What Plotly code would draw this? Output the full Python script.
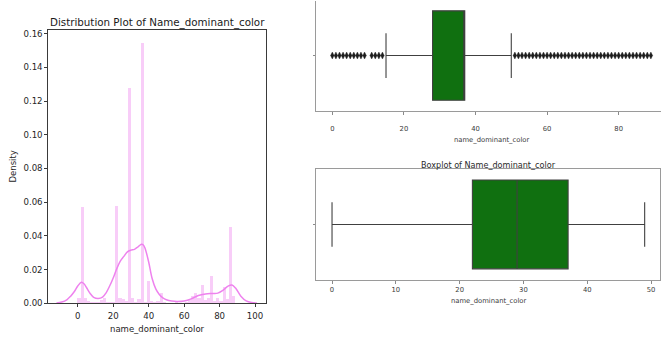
import numpy as np
import plotly.graph_objects as go

# ---------------------------------------------------------------- data
# histogram of name_dominant_color (density per bin), 50 bins over [0, 89]
hist_lo, hist_hi, hist_bins = 0, 89, 50
hist_density = [
    0.0035, 0.0570, 0.0030, 0.0015, 0.0010, 0.0008, 0.0010, 0.0020, 0.0035, 0.0010,
    0.0008, 0.0010, 0.0580, 0.0035, 0.0025, 0.0015, 0.1280, 0.0035, 0.0010, 0.0028,
    0.1545, 0.0010, 0.0135, 0.0015, 0.0010, 0.0015, 0.0065, 0.0010, 0.0005, 0.0004,
    0.0003, 0.0006, 0.0003, 0.0004, 0.0008, 0.0020, 0.0045, 0.0065, 0.0030, 0.0107,
    0.0020, 0.0030, 0.0162, 0.0015, 0.0030, 0.0015, 0.0095, 0.0025, 0.0454, 0.0045,
]

# kernel density estimate of the same column
kde_x = [-12, -9, -6, -4, -2, 0, 2, 3.5, 5, 7, 9, 11.5, 14, 16, 18, 20, 22, 24,
         26, 28, 30, 32, 34, 36, 37, 38, 40, 42, 44, 46, 48, 50, 53, 56, 60, 64,
         68, 72, 76, 79, 82, 85, 87, 89, 92, 95, 98, 101]
kde_y = [0.0002, 0.0007, 0.0022, 0.0042, 0.0068, 0.0102, 0.0124, 0.0116, 0.0092,
         0.0058, 0.0035, 0.0028, 0.0036, 0.0062, 0.0102, 0.0150, 0.0205, 0.0250,
         0.0278, 0.0305, 0.0315, 0.0320, 0.0335, 0.0350, 0.0346, 0.0325, 0.0245,
         0.0145, 0.0085, 0.0052, 0.0032, 0.0021, 0.0013, 0.0010, 0.0013, 0.0026,
         0.0046, 0.0055, 0.0058, 0.0060, 0.0078, 0.0103, 0.0108, 0.0090, 0.0042,
         0.0014, 0.0004, 0.0001]

# boxplot of the full column
full_q1, full_median, full_q3 = 28, 37, 37
full_whisker_lo, full_whisker_hi = 15, 50
full_outliers = [0, 1, 2, 3, 4, 5, 6, 7, 8, 9, 11, 12, 13, 14,
                 51, 52, 53, 54, 55, 56, 57, 58, 59, 60, 61, 62, 63, 64, 65, 66,
                 67, 68, 69, 70, 71, 72, 73, 74, 75, 76, 77, 78, 79, 80, 81, 82,
                 83, 84, 85, 86, 87, 88, 89]

# boxplot after outlier removal
clean_q1, clean_median, clean_q3 = 22, 29, 37
clean_whisker_lo, clean_whisker_hi = 0, 49

# ---------------------------------------------------------------- helpers
W, H = 661, 338


def fx(px):
    return px / W


def fy(py):
    return 1 - py / H


FONT = "DejaVu Sans"
BOX_GREEN = "#107010"
BOX_LINE = "#404040"
VIOLET = "#EE82EE"

edges = np.linspace(hist_lo, hist_hi, hist_bins + 1)
centres = (edges[:-1] + edges[1:]) / 2
bin_w = edges[1] - edges[0]

fig = go.Figure()

# left: distribution plot
fig.add_trace(go.Bar(
    x=centres, y=hist_density, width=bin_w,
    marker=dict(color="rgba(238,130,238,0.4)", line=dict(width=0)),
    xaxis="x", yaxis="y", showlegend=False, hoverinfo="skip",
))
fig.add_trace(go.Scatter(
    x=kde_x, y=kde_y, mode="lines",
    line=dict(color=VIOLET, width=1.5, shape="spline", smoothing=1.0),
    xaxis="x", yaxis="y", showlegend=False,
))

# top right: boxplot with outliers
fig.add_trace(go.Box(
    q1=[full_q1], median=[full_median], q3=[full_q3],
    lowerfence=[full_whisker_lo], upperfence=[full_whisker_hi],
    y=[0], orientation="h", width=0.8, whiskerwidth=0.5,
    fillcolor=BOX_GREEN, line=dict(color=BOX_LINE, width=1.1),
    boxpoints=False, xaxis="x2", yaxis="y2", showlegend=False,
))
fig.add_trace(go.Scatter(
    x=full_outliers, y=[0] * len(full_outliers), mode="markers",
    marker=dict(symbol="diamond-tall", size=5, color="#1e1e1e",
                line=dict(width=0.4, color="#1e1e1e")),
    xaxis="x2", yaxis="y2", showlegend=False,
))

# bottom right: boxplot without outliers
fig.add_trace(go.Box(
    q1=[clean_q1], median=[clean_median], q3=[clean_q3],
    lowerfence=[clean_whisker_lo], upperfence=[clean_whisker_hi],
    y=[0], orientation="h", width=0.8, whiskerwidth=0.5,
    fillcolor=BOX_GREEN, line=dict(color=BOX_LINE, width=1.1),
    boxpoints=False, xaxis="x3", yaxis="y3", showlegend=False,
))

left_axis = dict(showgrid=False, zeroline=False, showline=True, mirror=True,
                 linecolor="#3a3a3a", linewidth=1, ticks="outside", ticklen=3,
                 tickcolor="#3a3a3a", tickwidth=1,
                 tickfont=dict(family=FONT, size=8.6, color="#262626"))
right_axis = dict(showgrid=False, zeroline=False, showline=True,
                  linecolor="#9a9a9a", linewidth=1, ticks="outside", ticklen=3,
                  tickcolor="#8a8a8a", tickwidth=1,
                  tickfont=dict(family=FONT, size=6.8, color="#3a3a3a"))

fig.update_layout(
    width=W, height=H, margin=dict(l=0, r=0, t=0, b=0),
    paper_bgcolor="white", plot_bgcolor="white", bargap=0,
    xaxis=dict(left_axis, domain=[fx(48.3), fx(265.7)], range=[-16.6, 106.0],
               tickvals=[0, 20, 40, 60, 80, 100], anchor="y", ticklabelstandoff=1),
    yaxis=dict(left_axis, domain=[fy(307.7), fy(29.3)], range=[0, 0.1623],
               tickvals=[0, 0.02, 0.04, 0.06, 0.08, 0.10, 0.12, 0.14, 0.16],
               tickformat=".2f", anchor="x"),
    xaxis2=dict(right_axis, domain=[fx(316.4), 1], range=[-4.45, 91.83],
                tickvals=[0, 20, 40, 60, 80], anchor="y2", mirror=False,
                ticklabelstandoff=7),
    yaxis2=dict(right_axis, domain=[fy(112.4), 1], range=[-0.5, 0.488],
                tickvals=[0], ticktext=[""], ticklen=2, anchor="x2", mirror=False),
    xaxis3=dict(right_axis, domain=[fx(316.4), fx(660.3)], range=[-2.45, 51.45],
                tickvals=[0, 10, 20, 30, 40, 50], anchor="y3", mirror=True),
    yaxis3=dict(right_axis, domain=[fy(284), fy(171)], range=[-0.5, 0.5],
                tickvals=[0], ticktext=[""], ticklen=2, anchor="x3", mirror=True),
)

annotations = [
    dict(text="Distribution Plot of Name_dominant_color", x=fx(157), y=fy(22),
         font=dict(family=FONT, size=10.3, color="#1a1a1a")),
    dict(text="name_dominant_color", x=fx(157), y=fy(334),
         font=dict(family=FONT, size=8.5, color="#262626")),
    dict(text="Density", x=fx(13.5), y=fy(168), textangle=-90,
         font=dict(family=FONT, size=8.5, color="#262626")),
    dict(text="name_dominant_color", x=fx(491.7), y=fy(142),
         font=dict(family=FONT, size=6.8, color="#3a3a3a")),
    dict(text="Boxplot of Name_dominant_color", x=fx(488.3), y=fy(167),
         font=dict(family=FONT, size=8.1, color="#2a2a2a")),
    dict(text="name_dominant_color", x=fx(488.3), y=fy(305),
         font=dict(family=FONT, size=6.8, color="#3a3a3a")),
]
for a in annotations:
    a.update(xref="paper", yref="paper", showarrow=False,
             xanchor="center", yanchor="middle")
fig.update_layout(annotations=annotations)

fig.write_html("out.html")
